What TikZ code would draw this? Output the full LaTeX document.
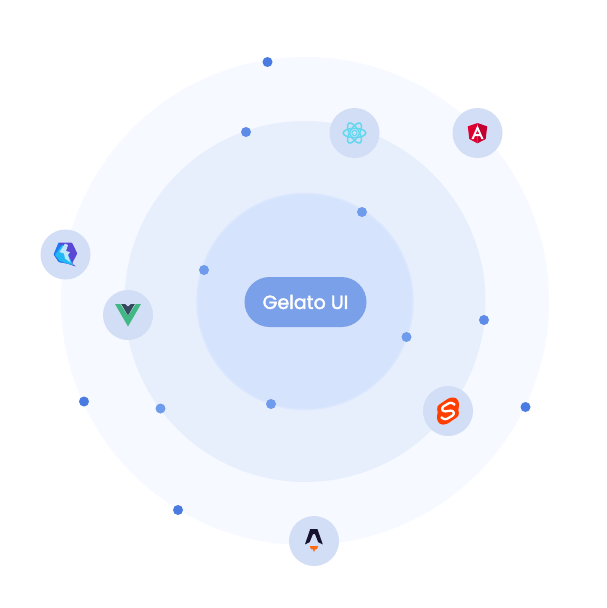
\documentclass[tikz,border=0pt]{standalone}
\usepackage{fontspec}
\setmainfont{Poppins}
\newfontfamily\pillfont[FakeBold=2]{Poppins}
\definecolor{ringa}{HTML}{F6F9FF}
\definecolor{ringb}{HTML}{E7EFFD}
\definecolor{ringc}{HTML}{D5E3FD}
\definecolor{ringcb}{HTML}{DBE7FD}
\definecolor{badge}{HTML}{D2DEF5}
\definecolor{pillc}{HTML}{7BA0EA}
\definecolor{dota}{HTML}{4A7BE2}
\definecolor{dotb}{HTML}{6F9BEC}
\definecolor{angA}{HTML}{DD0031}
\definecolor{angB}{HTML}{C3002F}
\definecolor{vueA}{HTML}{41B883}
\definecolor{vueB}{HTML}{35495E}
\definecolor{qwA}{HTML}{5B47D6}
\definecolor{qwB}{HTML}{22B8F6}
\definecolor{qwC}{HTML}{1D7DF2}
\definecolor{qwD}{HTML}{BFE6FB}
\definecolor{sveA}{HTML}{FF3E00}
\definecolor{astA}{HTML}{17122E}
\definecolor{astB}{HTML}{FF6A13}
\definecolor{reactc}{HTML}{62D8F0}
\tikzset{
  ring/.style={circle,inner sep=0pt,minimum size=#1,outer sep=0pt},
  badgenode/.style={circle,fill=badge,inner sep=0pt,minimum size=50pt},
  dotouter/.style={circle,fill=dota,inner sep=0pt,minimum size=10pt},
  dotinner/.style={circle,fill=dotb,inner sep=0pt,minimum size=10pt},
  pill/.style={rounded corners=25pt,fill=pillc,text=white,inner sep=0pt,minimum width=122pt,minimum height=50pt,font=\fontsize{19}{19}\pillfont}
}
\begin{document}
\begin{tikzpicture}[x=1pt,y=-1pt]
\useasboundingbox (0,0) rectangle (606,608);
\fill[white] (0,0) rectangle (606,608);
% rings
\node[ring=488pt,fill=ringa] (outer) at (305,301) {};
\node[ring=361pt,fill=ringb] (middle) at (305,301.5) {};
\node[ring=216pt,fill=ringc,draw=ringcb,line width=1.5pt] (inner) at (305,301.5) {};
% pill
\node[pill] (label) at (305.5,302) {Gelato UI};
% dots
\node[dotouter] (d1) at (267.5,62) {};
\node[dotouter] (d2) at (84,401.5) {};
\node[dotouter] (d3) at (178,510) {};
\node[dotouter] (d4) at (525.5,407) {};
\node[dotouter,fill=dotb!50!dota] (d5) at (246,132) {};
\node[dotinner] (d6) at (160.5,408.5) {};
\node[dotouter,fill=dotb!50!dota] (d7) at (484,320) {};
\node[dotinner] (d8) at (362,212) {};
\node[dotinner] (d9) at (204,270) {};
\node[dotinner] (d10) at (406.5,337) {};
\node[dotinner] (d11) at (271,404) {};
% badges
\node[badgenode] (react) at (354.5,133) {};
\node[badgenode] (angular) at (477.5,133) {};
\node[badgenode] (qwik) at (65.5,254.5) {};
\node[badgenode] (vue) at (128,315) {};
\node[badgenode] (svelte) at (448,411) {};
\node[badgenode] (astro) at (314,541) {};
% react logo
\begin{scope}[shift={(react.center)}]
  \foreach \a in {0,60,120}
    \draw[reactc,line width=1.5pt,rotate=\a] (0,0) ellipse (11.3pt and 4.6pt);
  \draw[reactc,line width=1.1pt] (0,0) circle (2.6pt);
\end{scope}
% angular logo
\begin{scope}[shift={(angular.center)}]
  \fill[angA] (0,-10) -- (-9.7,-6.6) -- (-8.2,6) -- (0,10.3) -- cycle;
  \fill[angB] (0,-10) -- (9.7,-6.6) -- (8.2,6) -- (0,10.3) -- cycle;
  \fill[white,even odd rule] (0,-7.6) -- (-6,6) -- (-3.8,6) -- (-2.6,3) -- (2.6,3) -- (3.8,6) -- (6,6) -- cycle
     (0,-3.1) -- (1.9,1.2) -- (-1.9,1.2) -- cycle;
\end{scope}
% qwik logo
\begin{scope}[shift={(qwik.center)}]
  \fill[qwA,rounded corners=1pt] (-6.8,-12) -- (6.5,-12) -- (11.8,-1) -- (6.5,9) -- (11,12.3) -- (1.5,9) -- (-6.8,7.5) -- (-11.8,0) -- cycle;
  \fill[qwC] (-6.8,-12) -- (-11.8,0) -- (-6.8,7.5) -- (1.5,9) -- (-3,1) -- (-3,-5) -- cycle;
  \fill[qwB] (-3,-10) -- (-10.5,0.5) -- (-5.5,6.5) -- (1.5,9) -- (7.5,10.5) -- (3,1) -- cycle;
  \fill[qwD] (-0.5,-11) -- (-6,-2.5) -- (-1.5,-1) -- (-0.5,4) -- (5,8) -- (2.5,0.5) -- (4.5,-2.5) -- (0.5,-3.5) -- (2.5,-9.5) -- cycle;
\end{scope}
% vue logo
\begin{scope}[shift={(vue.center)}]
  \fill[vueA] (-13,-11) -- (-7.8,-11) -- (0,1) -- (7.8,-11) -- (13,-11) -- (0,11.5) -- cycle;
  \fill[vueB] (-6.8,-11) -- (-3,-11) -- (0,-8.5) -- (3,-11) -- (6.8,-11) -- (0,0.5) -- cycle;
\end{scope}
% svelte logo
\begin{scope}[shift={(svelte.center)}]
  \fill[sveA,draw=sveA,line width=2pt,line join=round,rounded corners=2.5pt]
    (2,-12.5) -- (8,-12.5) -- (10.5,-7) -- (9,-1) -- (10.5,4) -- (-2,12.5) -- (-8,12.5) -- (-10.5,7) -- (-9,1) -- (-10.5,-4) -- cycle;
  \draw[white,line width=2.3pt,line join=round,rounded corners=2.5pt]
    (7,-6) -- (3,-9) -- (-6.5,-3.5) -- (-5,0.8) -- (5,-0.8) -- (6.5,3.5) -- (-3,9) -- (-7,6);
\end{scope}
% astro logo
\begin{scope}[shift={(astro.center)}]
  \fill[astA] (-3.8,-12) -- (3.4,-12) -- (8.8,3.4) -- (4.2,1.2) -- (1,-7) -- (-1,-7) -- (-4.4,1.2) -- (-9,3.4) -- cycle;
  \fill[astB] (-4.2,5.2) -- (4.2,5.2) -- (2.8,8.2) -- (1,8.4) -- (0,11.5) -- (-1,8.4) -- (-3,8.2) -- cycle;
\end{scope}
\end{tikzpicture}
\end{document}
